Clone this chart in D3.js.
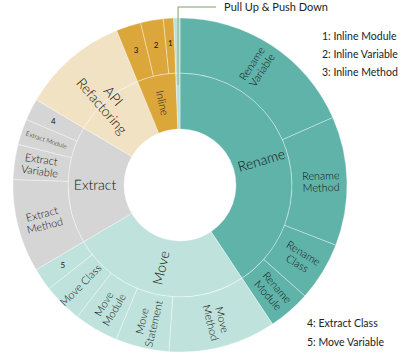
<!DOCTYPE html>
<html><head><meta charset="utf-8">
<script src="https://cdn.jsdelivr.net/npm/d3@7"></script>
<style>
html,body{margin:0;padding:0;background:#fff;}
svg{display:block;}
</style>
</head><body>
<svg id="chart" width="407" height="362"></svg>
<script>
// Data (share of refactorings, %)
const categories = ["Rename", "Move", "Extract", "API Refactoring", "Inline", "Pull Up & Push Down"];
const categoryColors = ["#5fb3a9", "#bfe3dc", "#d5d5d5", "#f1e2c4", "#dba73b", "#b9e0da"];
const renameTypes = ["Rename Variable", "Rename Method", "Rename Class", "Rename Module"];
const renameValues = [18.4, 12.5, 5.7, 4.1];
const moveTypes = ["Move Method", "Move Statement", "Move Module", "Move Class", "Move Variable"];
const moveValues = [10.4, 5.2, 4.3, 3.8, 2.2];
const extractTypes = ["Extract Method", "Extract Variable", "Extract Module", "Extract Class"];
const extractValues = [9.0, 3.4, 2.5, 2.1];
const apiTypes = [""];
const apiValues = [10.3];
const inlineTypes = ["Inline Method", "Inline Variable", "Inline Module"];
const inlineValues = [2.4, 2.2, 1.0];
const pullTypes = [""];
const pullValues = [0.6];
// short labels used in the chart for tiny slices
const shortLabels = {"Inline Module": "1", "Inline Variable": "2", "Inline Method": "3", "Extract Class": "4", "Move Variable": "5"};
const legendTop = ["1: Inline Module", "2: Inline Variable", "3: Inline Method"];
const legendBottom = ["4: Extract Class", "5: Move Variable"];

const childTypes = [renameTypes, moveTypes, extractTypes, apiTypes, inlineTypes, pullTypes];
const childValues = [renameValues, moveValues, extractValues, apiValues, inlineValues, pullValues];

const rootData = {name: "root", children: categories.map((c, i) => ({
  name: c, color: categoryColors[i],
  children: childTypes[i].map((t, j) => ({name: t, value: childValues[i][j]}))
}))};

const svg = d3.select("#chart");
const cx = 180, cy = 185;
const rInner = 56, rMid = 112, rOuter = 167;

const root = d3.hierarchy(rootData).sum(d => d.value || 0);
d3.partition().size([2 * Math.PI, 2])(root);

const radius = d3.scaleLinear().domain([0, 1, 2]).range([rInner, rMid, rOuter]);
const arc = d3.arc()
  .startAngle(d => d.x0).endAngle(d => d.x1)
  .innerRadius(d => radius(d.depth - 1))
  .outerRadius(d => radius(d.depth));

const g = svg.append("g").attr("transform", `translate(${cx},${cy})`);
const nodes = root.descendants().filter(d => d.depth > 0);
const colorOf = d => (d.depth === 1 ? d.data.color : d.parent.data.color);

g.selectAll("path").data(nodes).join("path")
  .attr("d", arc)
  .attr("fill", colorOf)
  .attr("stroke", "#ffffff")
  .attr("stroke-opacity", 0.5)
  .attr("stroke-width", 0.7);

const deg = d => ((d.x0 + d.x1) / 2) * 180 / Math.PI;

function labelTransform(a, r) {
  return `rotate(${a - 90}) translate(${r},0) rotate(${a < 180 ? 0 : 180})`;
}

const lines = {
  "Rename Variable": ["Rename", "Variable"], "Rename Method": ["Rename", "Method"],
  "Rename Class": ["Rename", "Class"], "Rename Module": ["Rename", "Module"],
  "Move Method": ["Move", "Method"], "Move Statement": ["Move", "Statement"],
  "Move Module": ["Move", "Module"], "Move Class": ["Move Class"],
  "Extract Method": ["Extract", "Method"], "Extract Variable": ["Extract", "Variable"],
  "Extract Module": ["Extract Module"], "API Refactoring": ["API", "Refactoring"]
};

const labelFont = "Lato, 'Open Sans', sans-serif";
const labels = g.append("g").attr("font-family", labelFont).attr("font-weight", 300).attr("fill", "#111");

nodes.forEach(d => {
  const name = d.data.name;
  if (!name || name === "Pull Up & Push Down") return;
  const a = deg(d);
  if (shortLabels[name]) {
    const r = 142, t = a * Math.PI / 180;
    labels.append("text")
      .attr("x", r * Math.sin(t)).attr("y", -r * Math.cos(t))
      .attr("text-anchor", "middle").attr("dy", "0.35em")
      .attr("font-size", 8).attr("font-weight", 400).text(shortLabels[name]);
    return;
  }
  let r, size;
  if (d.depth === 1) {
    if (name === "API Refactoring") { r = 111; size = 14; }
    else if (name === "Inline") { r = 84; size = 11; }
    else { r = 85; size = 14; }
  } else {
    r = 141; size = name === "Extract Module" ? 6.5 : 10.8;
  }
  const ls = lines[name] || [name];
  const lh = size * 1.1;
  const txt = labels.append("text")
    .attr("transform", labelTransform(a, r))
    .attr("text-anchor", "middle")
    .attr("font-size", size);
  ls.forEach((l, i) => {
    txt.append("tspan").attr("x", 0)
      .attr("y", (i - (ls.length - 1) / 2) * lh)
      .attr("dy", "0.35em").text(l);
  });
});

// Callout for Pull Up & Push Down
const pull = nodes.find(d => d.data.name === "Pull Up & Push Down");
const pa = (pull.x0 + pull.x1) / 2;
const px = cx + 100 * Math.sin(pa), py = cy - 100 * Math.cos(pa);
const topY = 7;
svg.append("polyline")
  .attr("points", `${px},${py} ${px},${topY} ${px + 38},${topY}`)
  .attr("fill", "none").attr("stroke", "#a7c196").attr("stroke-width", 1.5);
svg.append("text").attr("x", px + 46).attr("y", topY).attr("dy", "0.35em")
  .attr("font-family", "Lato, sans-serif").attr("font-size", 11).attr("fill", "#222")
  .text("Pull Up & Push Down");

// Legends
const leg = svg.append("g").attr("font-family", "Lato, sans-serif").attr("font-size", 10.5).attr("fill", "#222");
leg.selectAll("text.top").data(legendTop).join("text").attr("class", "top")
  .attr("x", 322).attr("y", (d, i) => 36 + i * 18).attr("dy", "0.35em").text(d => d);
leg.selectAll("text.bot").data(legendBottom).join("text").attr("class", "bot")
  .attr("x", 307).attr("y", (d, i) => 323 + i * 19).attr("dy", "0.35em").text(d => d);
</script>
</body></html>
